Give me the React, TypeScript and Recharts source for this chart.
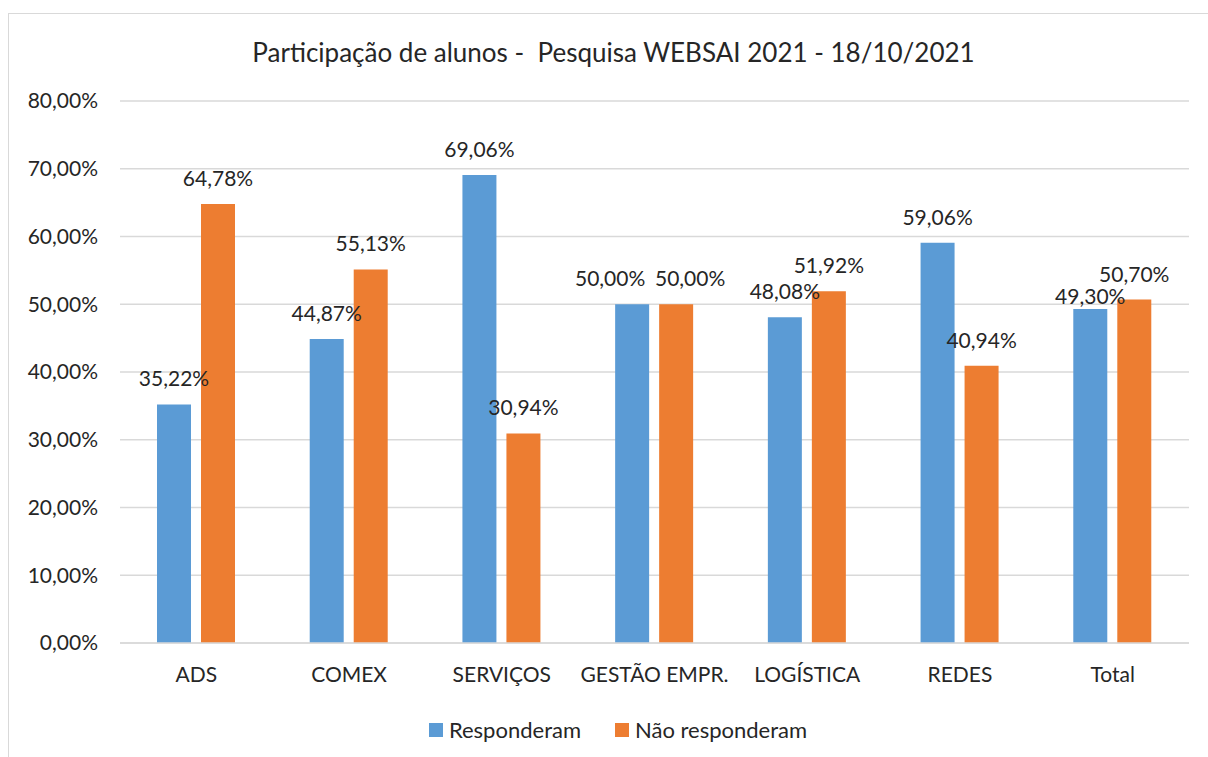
import { BarChart, Bar, XAxis, YAxis, CartesianGrid, Legend, LabelList } from 'recharts';

const cursos = ['ADS', 'COMEX', 'SERVIÇOS', 'GESTÃO EMPR.', 'LOGÍSTICA', 'REDES', 'Total'];
const responderam = [35.22, 44.87, 69.06, 50.0, 48.08, 59.06, 49.3];
const naoResponderam = [64.78, 55.13, 30.94, 50.0, 51.92, 40.94, 50.7];
const yTicks = [0, 10, 20, 30, 40, 50, 60, 70, 80];

const data = cursos.map((curso, i) => ({
  curso,
  responderam: responderam[i],
  naoResponderam: naoResponderam[i],
}));

const AZUL = '#5B9BD5';
const LARANJA = '#ED7D31';
const TEXTO = '#262626';
const FONTE = 'Lato, "Open Sans", sans-serif';

// ajustes dos rótulos que o Excel desloca para não sobrepor
const nudgeAzul: Record<number, [number, number]> = { 3: [-22, 0], 6: [0, 13] };
const nudgeLaranja: Record<number, [number, number]> = { 3: [14, 0] };

const pct = (v: number) => v.toFixed(2).replace('.', ',') + '%';

function rotulo(nudges: Record<number, [number, number]>) {
  return (props: any) => {
    const { x, y, width, value, index } = props;
    const [dx, dy] = nudges[index] ?? [0, 0];
    return (
      <text
        x={Number(x) + Number(width) / 2 + dx}
        y={Number(y) - 18 + dy}
        textAnchor="middle"
        fill={TEXTO}
        fontSize={21}
        fontFamily={FONTE}
      >
        {pct(Number(value))}
      </text>
    );
  };
}

function Legenda() {
  const itens = [
    { nome: 'Responderam', cor: AZUL },
    { nome: 'Não responderam', cor: LARANJA },
  ];
  return (
    <div style={{ display: 'flex', justifyContent: 'center', paddingLeft: 27, fontFamily: FONTE, fontSize: 22, color: TEXTO }}>
      {itens.map((it) => (
        <div key={it.nome} style={{ display: 'flex', alignItems: 'center', margin: '0 17px' }}>
          <span style={{ width: 14, height: 14, background: it.cor, display: 'inline-block', marginRight: 6 }} />
          <span>{it.nome}</span>
        </div>
      ))}
    </div>
  );
}

export default function App() {
  return (
    <div style={{ position: 'fixed', left: 8, top: 13, width: 1200, height: 744, overflow: 'hidden' }}>
      <div
        style={{
          position: 'relative',
          width: 1199,
          height: 743,
          borderLeft: '1px solid #d9d9d9',
          borderTop: '1px solid #d9d9d9',
          background: '#fff',
        }}
      >
        <div
          style={{
            position: 'absolute',
            top: 23,
            left: 9,
            width: 1191,
            textAlign: 'center',
            whiteSpace: 'pre',
            fontFamily: FONTE,
            fontSize: 26,
            lineHeight: '30px',
            color: TEXTO,
          }}
        >
          {'Participação de alunos -  Pesquisa WEBSAI 2021 - 18/10/2021'}
        </div>
        <BarChart
          width={1199}
          height={735}
          data={data}
          margin={{ top: 87, right: 19, left: 0, bottom: 76 }}
          barSize={34}
          barGap={10}
        >
          <CartesianGrid vertical={false} stroke="#d9d9d9" strokeWidth={1.5} />
          <XAxis
            dataKey="curso"
            height={30}
            tickLine={false}
            tickSize={0}
            tickMargin={24}
            axisLine={{ stroke: '#d9d9d9', strokeWidth: 1.5 }}
            tick={{ fill: TEXTO, fontSize: 21, fontFamily: FONTE }}
            interval={0}
          />
          <YAxis
            width={111}
            domain={[0, 80]}
            ticks={yTicks}
            axisLine={false}
            tickLine={false}
            tickSize={0}
            tickMargin={22}
            tickFormatter={pct}
            tick={{ fill: TEXTO, fontSize: 21, fontFamily: FONTE }}
          />
          <Legend
            verticalAlign="middle"
            align="center"
            wrapperStyle={{ top: 702, left: 0, width: 1191, height: 26 }}
            content={() => <Legenda />}
          />
          <Bar dataKey="responderam" name="Responderam" fill={AZUL} isAnimationActive={false}>
            <LabelList dataKey="responderam" content={rotulo(nudgeAzul)} />
          </Bar>
          <Bar dataKey="naoResponderam" name="Não responderam" fill={LARANJA} isAnimationActive={false}>
            <LabelList dataKey="naoResponderam" content={rotulo(nudgeLaranja)} />
          </Bar>
        </BarChart>
      </div>
    </div>
  );
}
